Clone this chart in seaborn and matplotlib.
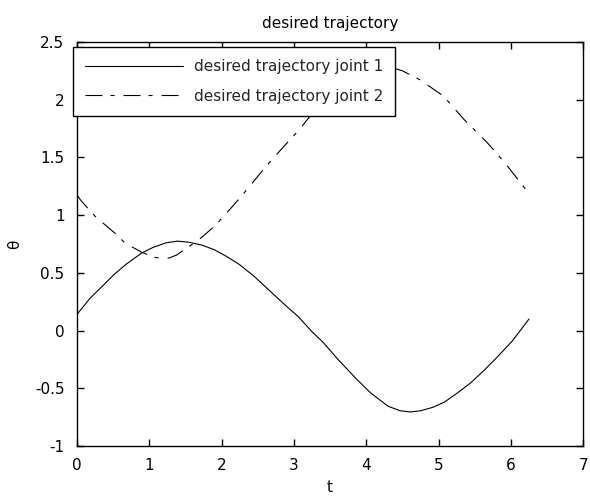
import matplotlib
matplotlib.use("Agg")
import matplotlib.pyplot as plt
import seaborn as sns
import pandas as pd

# Data
t1 = [0.0, 0.18, 0.36, 0.52, 0.68, 0.89, 1.05, 1.23, 1.39, 1.55, 1.73, 1.9, 2.06,
      2.24, 2.45, 2.69, 2.88, 3.06, 3.25, 3.4, 3.61, 3.85, 4.06, 4.3, 4.47, 4.61,
      4.75, 4.92, 5.08, 5.25, 5.44, 5.62, 5.81, 6.02, 6.25]
joint1 = [0.14, 0.28, 0.39, 0.49, 0.575, 0.67, 0.72, 0.76, 0.775, 0.765, 0.74, 0.70, 0.645,
          0.575, 0.47, 0.33, 0.22, 0.12, -0.01, -0.10, -0.25, -0.41, -0.54, -0.655, -0.695, -0.705,
          -0.695, -0.665, -0.62, -0.545, -0.455, -0.35, -0.23, -0.09, 0.10]

t2 = [0.0, 0.05, 0.25, 0.4, 0.55, 0.66, 0.89, 1.07, 1.18, 1.28, 1.38, 1.48, 1.6, 1.73,
      1.92, 2.10, 2.24, 2.44, 2.61, 2.81, 2.97, 3.10, 3.20, 3.5, 3.8, 4.0, 4.2, 4.35,
      4.50, 4.75, 5.07, 5.35, 5.67, 5.94, 6.19, 6.25]
joint2 = [1.175, 1.13, 0.99, 0.91, 0.83, 0.76, 0.68, 0.635, 0.625, 0.63, 0.655, 0.70, 0.75, 0.81,
          0.915, 1.04, 1.14, 1.29, 1.42, 1.56, 1.67, 1.76, 1.84, 2.04, 2.19, 2.26, 2.29, 2.28,
          2.25, 2.17, 2.03, 1.83, 1.63, 1.435, 1.235, 1.19]

labels = ["desired trajectory joint 1", "desired trajectory joint 2"]

df = pd.concat([
    pd.DataFrame({"t": t1, "theta": joint1, "series": labels[0]}),
    pd.DataFrame({"t": t2, "theta": joint2, "series": labels[1]}),
])

sns.set_theme(style="white")
plt.rcParams["font.family"] = ["DejaVu Sans"]
plt.rcParams["lines.scale_dashes"] = False

FS = 11
fig = plt.figure(figsize=(5.9, 4.98), dpi=100)
ax = fig.add_axes([0.1305, 0.1044, 0.858, 0.8113])

sns.lineplot(data=df, x="t", y="theta", hue="series", style="series",
             palette={labels[0]: "black", labels[1]: "black"},
             dashes={labels[0]: "", labels[1]: (12.2, 5.8, 2.9, 6.5)},
             linewidth=0.8, sort=False, estimator=None, ax=ax)

ax.set_xlim(0, 7)
ax.set_ylim(-1, 2.5)
ax.set_xticks(range(0, 8))
ax.set_yticks([-1, -0.5, 0, 0.5, 1, 1.5, 2, 2.5])
ax.set_yticklabels(["-1", "-0.5", "0", "0.5", "1", "1.5", "2", "2.5"])
ax.tick_params(direction="in", top=True, right=True, length=5, width=1.0,
               labelsize=FS, colors="black", bottom=True, left=True)
ax.tick_params(axis="x", pad=8.5)
ax.tick_params(axis="y", pad=9)
for s in ax.spines.values():
    s.set_color("black")
    s.set_linewidth(1.0)

ax.set_xlabel("t", fontsize=FS, color="black", labelpad=5)
ax.set_ylabel("θ", fontsize=FS, color="black", labelpad=9)
ax.set_title("desired trajectory", fontsize=FS, color="black", pad=10)

leg = ax.legend(loc="upper left", bbox_to_anchor=(-0.008, 0.988), fontsize=FS,
                frameon=True, fancybox=False, handlelength=6.4, handletextpad=0.72,
                borderpad=0.8, labelspacing=0.95, borderaxespad=0)
leg.get_frame().set_edgecolor("black")
leg.get_frame().set_linewidth(1.0)
leg.get_frame().set_alpha(1)

fig.savefig("out.png", dpi=100)
